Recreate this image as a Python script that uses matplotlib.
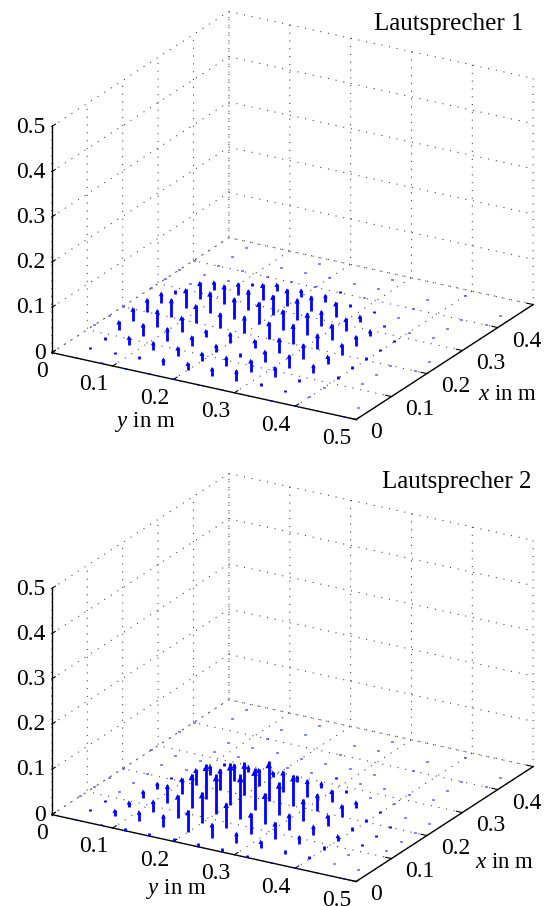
import numpy as np
import matplotlib
matplotlib.use('Agg')
import matplotlib.pyplot as plt

plt.rcParams['font.family'] = ['Liberation Serif', 'DejaVu Serif']
plt.rcParams['mathtext.fontset'] = 'custom'
plt.rcParams['mathtext.rm'] = 'Liberation Serif'
plt.rcParams['mathtext.it'] = 'Liberation Serif:italic'

# grid of the measuring points
x_pos = [0, 0.04, 0.08, 0.12, 0.16, 0.2, 0.24, 0.28, 0.32, 0.36, 0.4, 0.44, 0.48]
y_pos = x_pos
ticks = [0, 0.1, 0.2, 0.3, 0.4, 0.5]
tick_labels = ['0', '0.1', '0.2', '0.3', '0.4', '0.5']
x_tick_labels = ['0', '0.1', '0.2', '0.3', '0.4', '']
titles = ['Lautsprecher 1', 'Lautsprecher 2']

# arrow heights in 1/1000 m, rows along x, columns along y
heights_1 = [
    [2, 2, 2, 2, 2, 2, 2, 2, 2, 2, 2, 1, 1],
    [1, 3, 4, 7, 13, 16, 16, 23, 7, 3, 1, 1, 1],
    [1, 5, 18, 18, 18, 18, 21, 26, 22, 7, 2, 1, 1],
    [2, 20, 26, 29, 22, 15, 9, 26, 28, 18, 5, 1, 1],
    [2, 29, 37, 34, 15, 21, 17, 33, 32, 18, 7, 2, 1],
    [2, 29, 41, 40, 33, 38, 37, 44, 34, 24, 6, 2, 1],
    [2, 22, 43, 48, 47, 49, 44, 49, 35, 21, 4, 1, 1],
    [2, 9, 38, 43, 44, 44, 48, 33, 28, 13, 3, 1, 1],
    [2, 3, 18, 26, 37, 37, 33, 31, 13, 5, 2, 1, 1],
    [1, 2, 2, 7, 16, 15, 15, 7, 4, 2, 1, 1, 1],
    [1, 2, 2, 2, 3, 4, 3, 2, 2, 1, 1, 1, 1],
    [1, 1, 1, 1, 1, 2, 2, 1, 1, 1, 1, 1, 1],
    [1, 1, 1, 1, 1, 1, 1, 1, 1, 1, 1, 1, 1],
]
heights_2 = [
    [2, 2, 2, 6, 6, 7, 9, 9, 6, 2, 2, 2, 1],
    [2, 4, 13, 22, 26, 48, 31, 22, 16, 7, 6, 2, 1],
    [2, 4, 11, 26, 51, 68, 57, 46, 37, 18, 9, 3, 1],
    [3, 4, 15, 41, 77, 88, 99, 70, 35, 21, 11, 4, 2],
    [2, 2, 12, 35, 77, 92, 92, 73, 47, 24, 10, 4, 2],
    [2, 2, 6, 35, 47, 73, 88, 68, 39, 26, 7, 3, 1],
    [2, 2, 2, 22, 37, 39, 46, 38, 26, 13, 4, 2, 1],
    [2, 2, 2, 7, 11, 11, 13, 11, 6, 4, 2, 1, 1],
    [1, 1, 2, 2, 2, 2, 3, 3, 3, 2, 1, 1, 1],
    [1, 1, 1, 1, 2, 2, 2, 2, 2, 1, 1, 1, 1],
    [1, 1, 1, 1, 1, 1, 1, 1, 1, 1, 1, 1, 1],
    [1, 1, 1, 1, 1, 1, 1, 1, 1, 1, 1, 1, 1],
    [1, 1, 1, 1, 1, 1, 1, 1, 1, 1, 1, 1, 1],
]


def style_labels(axis, ha, va):
    for tick in axis.get_major_ticks():
        lab = tick.label1
        lab.set_ha(ha)
        lab.set_va(va)
        lab.set_fontsize(17)


def draw_panel(fig, bottom, heights):
    side = 430
    ax = fig.add_axes([71.7/547, bottom/906, side/547, side/906], projection='3d')
    ax.set_proj_type('ortho')
    ax.view_init(elev=22.2, azim=30.2)
    ax.set_box_aspect((1, 1, 0.694), zoom=1.252)
    ax.set_facecolor('none')

    ax.set_xlim(0.5, 0, view_margin=0)
    ax.set_ylim(0, 0.5, view_margin=0)
    ax.set_zlim(0, 0.5, view_margin=0)
    ax.set_xticks(ticks, labels=x_tick_labels)
    ax.set_yticks(ticks, labels=tick_labels)
    ax.set_zticks(ticks, labels=tick_labels)

    for axis in (ax.xaxis, ax.yaxis, ax.zaxis):
        axis.pane.set_visible(False)
        axis.line.set_color('black')
        axis.line.set_linewidth(1.0)
        axis._axinfo['grid'].update(color='0.2', linewidth=0.75, linestyle=(0, (1, 6.5)))
        axis._axinfo['tick'].update(inward_factor=0.0, outward_factor=0.24)
    ax.tick_params(axis='x', pad=-0.6)
    ax.tick_params(axis='y', pad=-4)
    ax.tick_params(axis='z', pad=-6)
    style_labels(ax.xaxis, 'left', 'center')
    style_labels(ax.yaxis, 'right', 'top')
    style_labels(ax.zaxis, 'right', 'center')

    xx, yy = np.meshgrid(x_pos, y_pos, indexing='ij')
    xx, yy = xx.ravel(), yy.ravel()
    w = np.array(heights).ravel() / 1000
    ax.quiver(xx, yy, np.zeros(xx.size), np.zeros(xx.size), np.zeros(xx.size), w,
              color='#0000ff', linewidth=2.0, arrow_length_ratio=0)

    # wide arrow heads, quiver's own are too narrow for vertical arrows
    big = w > 0.01
    head_px = np.clip(4 + 30 * w[big], 4, 7)
    ax.scatter(xx[big], yy[big], w[big] * 0.9, marker='^', s=(head_px * 0.72)**2,
               color='#0000ff', linewidths=0, depthshade=False)
    return ax


fig = plt.figure(figsize=(5.47, 9.06), dpi=100)
draw_panel(fig, 469.7, heights_1)
draw_panel(fig, 7.7, heights_2)

# titles and axis names
fig.text(523/547, 1 - 24/906, titles[0], ha='right', va='center', fontsize=18)
fig.text(532/547, 1 - 482/906, titles[1], ha='right', va='center', fontsize=18)
fig.text(145/547, 1 - 422/906, r'$\mathit{y}$ in m', ha='center', va='center', fontsize=16.5)
fig.text(176/547, 1 - 889/906, r'$\mathit{y}$ in m', ha='center', va='center', fontsize=16.5)
fig.text(508/547, 1 - 394/906, r'$\mathit{x}$ in m', ha='center', va='center', fontsize=16.5)
fig.text(505/547, 1 - 862/906, r'$\mathit{x}$ in m', ha='center', va='center', fontsize=16.5)

fig.savefig('out.png', dpi=100)
